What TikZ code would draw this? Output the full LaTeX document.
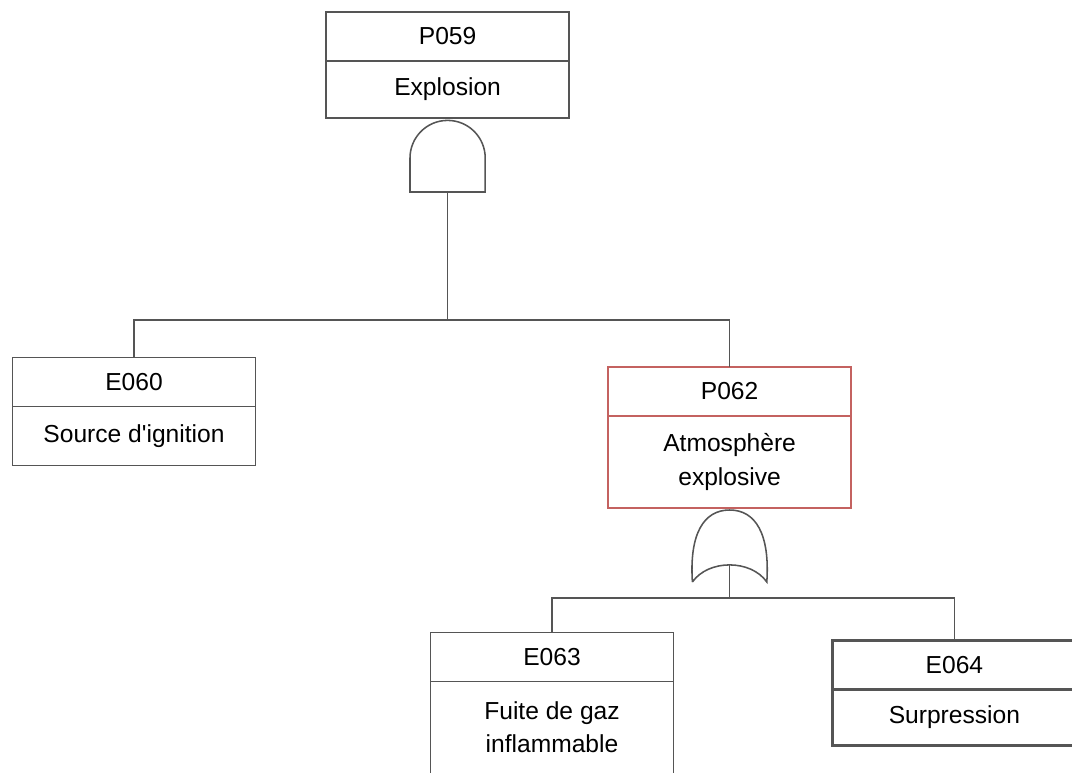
\documentclass[tikz,border=0pt]{standalone}
\usepackage{fontspec}
\setmainfont{Liberation Sans}
\usetikzlibrary{positioning}
\definecolor{linegray}{RGB}{85,85,85}
\definecolor{boxred}{RGB}{196,98,96}

\tikzset{
  idbox/.style={draw=linegray,line width=1.2pt,minimum width=6.075cm,minimum height=1.225cm,inner sep=0pt,outer sep=0pt,font=\fontsize{17.5}{23.5}\selectfont},
  descbox/.style={idbox,align=center,minimum height=1.425cm},
  gate/.style={draw=linegray,line width=1.1pt},
  wire/.style={draw=linegray,line width=1.2pt}
}

\begin{document}
\begin{tikzpicture}
    \clip (0,0) rectangle (26.8,-19.325);

    % Top event
    \node[idbox] (p059) at (11.19,-0.9125) {P059};
    \node[descbox] (p059d) [below=0pt of p059] {Explosion};
    \coordinate[below=1.85cm of p059d] (and1);

    % AND gate under the top event
    \draw[gate] ([xshift=-0.94cm]and1) -- ++(0,0.85) arc[start angle=180,end angle=0,radius=0.94cm] -- ++(0,-0.85) -- cycle;

    % Causes of the explosion
    \node[idbox] (e060) at (3.35,-9.55) {E060};
    \node[descbox,minimum height=1.475cm] (e060d) [below=0pt of e060] {Source d\textquotesingle ignition};
    \node[idbox,draw=boxred] (p062) at (18.24,-9.7875) {P062};
    \node[descbox,draw=boxred,minimum height=2.3cm] (p062d) [below=0pt of p062] {Atmosphère\\explosive};
    \coordinate[below=1.85cm of p062d] (or1);

    % OR gate under the intermediate event
    \draw[gate] ([xshift=-0.93cm]or1) .. controls +(-0.08,1.2) and +(-0.65,0) .. ([yshift=1.8cm]or1)
        .. controls +(0.65,0) and +(0.08,1.2) .. ([xshift=0.93cm]or1)
        .. controls +(-0.4,0.57) and +(0.4,0.57) .. ([xshift=-0.93cm]or1);

    % Basic events
    \node[idbox] (e063) at (13.8,-16.425) {E063};
    \node[descbox,minimum height=2.3cm] (e063d) [below=0pt of e063] {Fuite de gaz\\inflammable};
    \node[idbox,line width=2.2pt] (e064) at (23.86,-16.625) {E064};
    \node[descbox,line width=2.2pt,minimum height=1.4cm] (e064d) [below=0pt of e064] {Surpression};

    % Connectors
    \coordinate[below=3.2cm of and1] (bus1);
    \draw[wire] (and1) -- (bus1);
    \draw[wire] (bus1) -| (e060.north);
    \draw[wire] (bus1) -| (p062.north);
    \coordinate[below=0.4cm of or1] (bus2);
    \draw[wire] ([yshift=0.425cm]or1) -- (bus2);
    \draw[wire] (bus2) -| (e063.north);
    \draw[wire] (bus2) -| (e064.north);
\end{tikzpicture}
\end{document}
